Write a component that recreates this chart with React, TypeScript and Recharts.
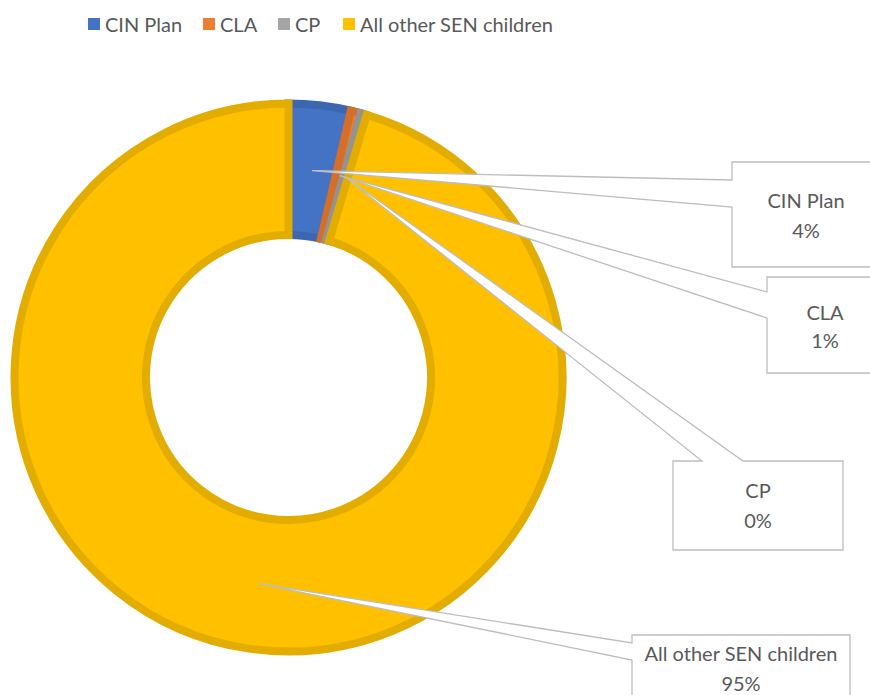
import React from "react";
import { PieChart, Pie, Cell } from "recharts";

// slice names and shares (%)
const NAMES = ["CIN Plan", "CLA", "CP", "All other SEN children"];
const SHARES = [3.65, 0.6, 0.35, 95.4];

const FILLS = ["#4472C4", "#ED7D31", "#A5A5A5", "#FFC000"];
const BORDERS = ["#3D66B0", "#D46F2B", "#939393", "#E3AC00"];
const TEXT = "#595959";
const FONT = "Lato, 'Open Sans', sans-serif";
const FS = 20;

const data = NAMES.map((name, i) => ({ name, value: SHARES[i] }));

// callout box placement (layout only)
type Box = { l: number; t: number; r: number; b: number; side: "left" | "top"; p1: number; p2: number; y1: number; y2: number };
const BOXES: Box[] = [
  { l: 732, t: 162, r: 880, b: 267, side: "left", p1: 180, p2: 207, y1: 200, y2: 230 },
  { l: 767, t: 277, r: 883, b: 373, side: "left", p1: 292, p2: 318, y1: 312, y2: 340 },
  { l: 673, t: 461, r: 843, b: 550, side: "top", p1: 702, p2: 743, y1: 490, y2: 520 },
  { l: 632, t: 635, r: 850, b: 720, side: "left", p1: 643, p2: 660, y1: 653, y2: 683 },
];

// legend item x positions (square left edge)
const LEGEND_X = [88, 203, 278, 343];

const RAD = Math.PI / 180;

function Callout(props: any) {
  const { cx, cy, midAngle, innerRadius, outerRadius, percent, index, name } = props;
  const box = BOXES[index];
  const r = (innerRadius + outerRadius) / 2;
  const tx = cx + r * Math.cos(midAngle * RAD);
  const ty = cy - r * Math.sin(midAngle * RAD);
  const { l, t, r: rr, b, p1, p2 } = box;
  const d =
    box.side === "left"
      ? `M${l},${t} L${rr},${t} L${rr},${b} L${l},${b} L${l},${p2} L${tx},${ty} L${l},${p1} Z`
      : `M${l},${t} L${p1},${t} L${tx},${ty} L${p2},${t} L${rr},${t} L${rr},${b} L${l},${b} Z`;
  const mid = (l + rr) / 2;
  return (
    <g>
      <path d={d} fill="#FFFFFF" stroke="#BDBDBD" strokeWidth={1.3} />
      <text x={mid} y={box.y1} textAnchor="middle" dominantBaseline="central" fill={TEXT} fontSize={FS} fontFamily={FONT}>
        {name}
      </text>
      <text x={mid} y={box.y2} textAnchor="middle" dominantBaseline="central" fill={TEXT} fontSize={FS} fontFamily={FONT}>
        {`${Math.round(percent * 100)}%`}
      </text>
    </g>
  );
}

function TopLegend() {
  return (
    <>
      {NAMES.map((n, i) => (
        <div
          key={n}
          style={{
            position: "absolute", top: 12, left: LEGEND_X[i], display: "flex", alignItems: "center",
            fontFamily: FONT, fontSize: FS, color: TEXT, whiteSpace: "nowrap", lineHeight: "24px",
          }}
        >
          <span style={{ width: 12, height: 12, background: FILLS[i], marginRight: 5, display: "inline-block" }} />
          <span>{n}</span>
        </div>
      ))}
    </>
  );
}

export default function App() {
  return (
    <div style={{ position: "absolute", left: 0, top: 0, width: 870, height: 695, background: "#fff", overflow: "hidden" }}>
      <PieChart width={870} height={695} margin={{ top: 0, right: 0, bottom: 0, left: 0 }}>
        <Pie
          data={data}
          dataKey="value"
          nameKey="name"
          cx={288.5}
          cy={377.5}
          innerRadius={142.5}
          outerRadius={274}
          startAngle={90}
          endAngle={-270}
          label={Callout}
          labelLine={false}
          strokeWidth={8}
          isAnimationActive={false}
        >
          {data.map((_, i) => (
            <Cell key={i} fill={FILLS[i]} stroke={BORDERS[i]} />
          ))}
        </Pie>
      </PieChart>
      <TopLegend />
    </div>
  );
}
